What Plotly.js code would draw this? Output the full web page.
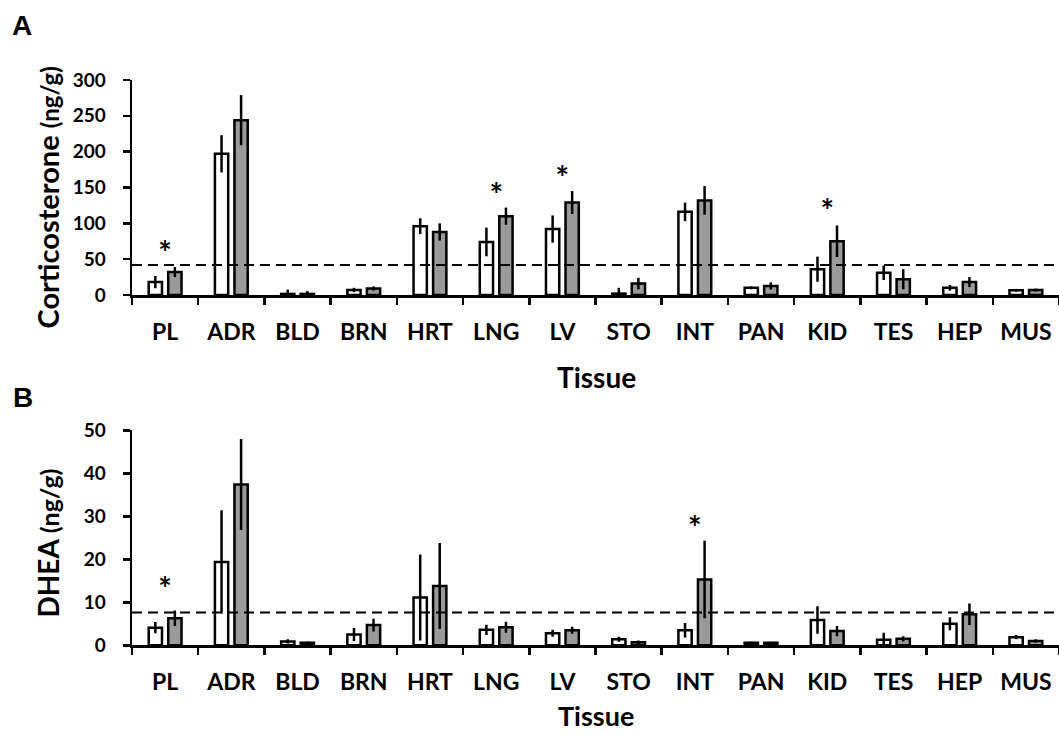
<!DOCTYPE html>
<html>
<head>
<meta charset="utf-8">
<script src="https://cdn.plot.ly/plotly-3.0.1.min.js"></script>
<style>html,body{margin:0;padding:0;background:#fff;}#chart{width:1059px;height:733px;}</style>
</head>
<body>
<div id="chart"></div>
<script>
// ---- data ----
const tissues = ["PL","ADR","BLD","BRN","HRT","LNG","LV","STO","INT","PAN","KID","TES","HEP","MUS"];

const corticoWhite    = [18, 197, 1.5, 7, 96, 74, 92, 2, 116, 10, 36, 31, 10, 6.5];
const corticoWhiteErr = [8.5, 26, 6, 3, 11, 20, 19, 8, 13, 2, 17.5, 10, 4, 2];
const corticoGray     = [32, 244, 1.5, 9, 88, 110, 129, 16, 132, 12.6, 75, 22, 18, 7];
const corticoGrayErr  = [7, 35, 4, 3, 12, 12, 16, 8, 20, 5, 22, 14, 7, 2];
const corticoStarCats = ["PL","LNG","LV","KID"];
const corticoStarY    = [53, 134, 158, 112];
const corticoLimit    = 42;

const dheaWhite    = [4.1, 19.4, 0.9, 2.5, 11.1, 3.6, 2.8, 1.4, 3.5, 0.6, 5.9, 1.3, 5.0, 1.9];
const dheaWhiteErr = [1.3, 12, 0.5, 1.5, 10, 1.2, 0.8, 0.6, 1.7, 0.2, 3.2, 1.6, 1.5, 0.5];
const dheaGray     = [6.3, 37.4, 0.6, 4.7, 13.8, 4.2, 3.5, 0.7, 15.3, 0.6, 3.3, 1.5, 7.2, 1.0];
const dheaGrayErr  = [1.8, 10.6, 0.3, 1.5, 10, 1.3, 0.8, 0.4, 9, 0.2, 1.2, 0.6, 2.5, 0.4];
const dheaStarCats = ["PL","INT"];
const dheaStarY    = [12.2, 26.4];
const dheaLimit    = 7.6;

const corticoTicks = [0, 50, 100, 150, 200, 250, 300];
const dheaTicks    = [0, 10, 20, 30, 40, 50];

// ---- styling ----
const W = 1059, H = 733;
const FONT = "Lato, 'Open Sans', sans-serif";
const LW = 2.5;
const GRAY = "#9a9a9a";

function barTrace(y, err, fill, xa, ya) {
  return {
    type: "bar", x: tissues, y: y, xaxis: xa, yaxis: ya,
    marker: {color: fill, line: {color: "#000", width: LW}},
    error_y: {type: "data", array: err, visible: true, color: "#000", thickness: LW, width: 0},
    hoverinfo: "skip"
  };
}
function starTrace(cats, ys, xa, ya) {
  return {
    type: "scatter", mode: "text", x: cats, y: ys, xaxis: xa, yaxis: ya,
    text: cats.map(() => "*"), textposition: "middle center",
    textfont: {family: FONT, size: 32, color: "#000", weight: 700},
    hoverinfo: "skip", cliponaxis: false
  };
}

const data = [
  barTrace(corticoWhite, corticoWhiteErr, "#ffffff", "x", "y"),
  barTrace(corticoGray, corticoGrayErr, GRAY, "x", "y"),
  starTrace(corticoStarCats, corticoStarY, "x", "y"),
  barTrace(dheaWhite, dheaWhiteErr, "#ffffff", "x2", "y2"),
  barTrace(dheaGray, dheaGrayErr, GRAY, "x2", "y2"),
  starTrace(dheaStarCats, dheaStarY, "x2", "y2")
];

const xBase = {
  domain: [132 / W, 1], type: "category", range: [-0.5, tissues.length - 0.5], autorange: false,
  tickson: "boundaries",
  ticks: "outside", ticklen: 7, tickwidth: LW, tickcolor: "#000",
  showline: true, linewidth: LW, linecolor: "#000",
  showgrid: false, zeroline: false, automargin: false,
  ticklabelstandoff: 15,
  tickfont: {family: FONT, size: 23, color: "#000", weight: 700},
  fixedrange: true
};
const yBase = {
  ticks: "outside", ticklen: 7, tickwidth: LW, tickcolor: "#000",
  showline: true, linewidth: LW, linecolor: "#000",
  showgrid: false, zeroline: false, automargin: false,
  ticklabelstandoff: 13,
  tickfont: {family: FONT, size: 19, color: "#000", weight: 700},
  fixedrange: true
};

const layout = {
  width: W, height: H,
  margin: {l: 0, r: 0, t: 0, b: 0, pad: 0, autoexpand: false},
  paper_bgcolor: "#fff", plot_bgcolor: "#fff",
  showlegend: false, barmode: "group", bargap: 0.41, bargroupgap: 0.32,
  xaxis: Object.assign({}, xBase, {anchor: "y"}),
  yaxis: Object.assign({}, yBase, {anchor: "x", domain: [1 - 295 / H, 1 - 80 / H], range: [0, 300], autorange: false, tickvals: corticoTicks}),
  xaxis2: Object.assign({}, xBase, {anchor: "y2"}),
  yaxis2: Object.assign({}, yBase, {anchor: "x2", domain: [1 - 645.3 / H, 1 - 430.3 / H], range: [0, 50], autorange: false, tickvals: dheaTicks}),
  shapes: [
    {type: "line", xref: "x domain", yref: "y", x0: 0, x1: 1, y0: corticoLimit, y1: corticoLimit,
     line: {color: "#000", width: 2, dash: "10px,6px"}},
    {type: "line", xref: "x2 domain", yref: "y2", x0: 0, x1: 1, y0: dheaLimit, y1: dheaLimit,
     line: {color: "#000", width: 2, dash: "10px,6px"}}
  ],
  annotations: [
    {text: "A", xref: "paper", yref: "paper", x: 21.5 / W, y: 1 - 25 / H, xanchor: "center", yanchor: "middle",
     showarrow: false, font: {family: "'Liberation Sans', Arial, sans-serif", size: 28, color: "#000", weight: 700}},
    {text: "B", xref: "paper", yref: "paper", x: 23 / W, y: 1 - 397 / H, xanchor: "center", yanchor: "middle",
     showarrow: false, font: {family: "'Liberation Sans', Arial, sans-serif", size: 28, color: "#000", weight: 700}},
    {text: "Corticosterone <span style='font-size:24px'>(ng/g)</span>", xref: "paper", yref: "paper",
     x: 47 / W, y: 1 - 197.5 / H, xanchor: "center", yanchor: "middle", textangle: -90,
     showarrow: false, font: {family: FONT, size: 29, color: "#000", weight: 700}},
    {text: "DHEA <span style='font-size:25px'>(ng/g)</span>", xref: "paper", yref: "paper",
     x: 47 / W, y: 1 - 543.5 / H, xanchor: "center", yanchor: "middle", textangle: -90,
     showarrow: false, font: {family: FONT, size: 28, color: "#000", weight: 700}},
    {text: "Tissue", xref: "paper", yref: "paper", x: 596 / W, y: 1 - 377 / H, xanchor: "center", yanchor: "middle",
     showarrow: false, font: {family: FONT, size: 28, color: "#000", weight: 700}},
    {text: "Tissue", xref: "paper", yref: "paper", x: 596 / W, y: 1 - 715 / H, xanchor: "center", yanchor: "middle",
     showarrow: false, font: {family: FONT, size: 27, color: "#000", weight: 700}}
  ]
};

Plotly.newPlot("chart", data, layout, {staticPlot: true, displayModeBar: false});
</script>
</body>
</html>
